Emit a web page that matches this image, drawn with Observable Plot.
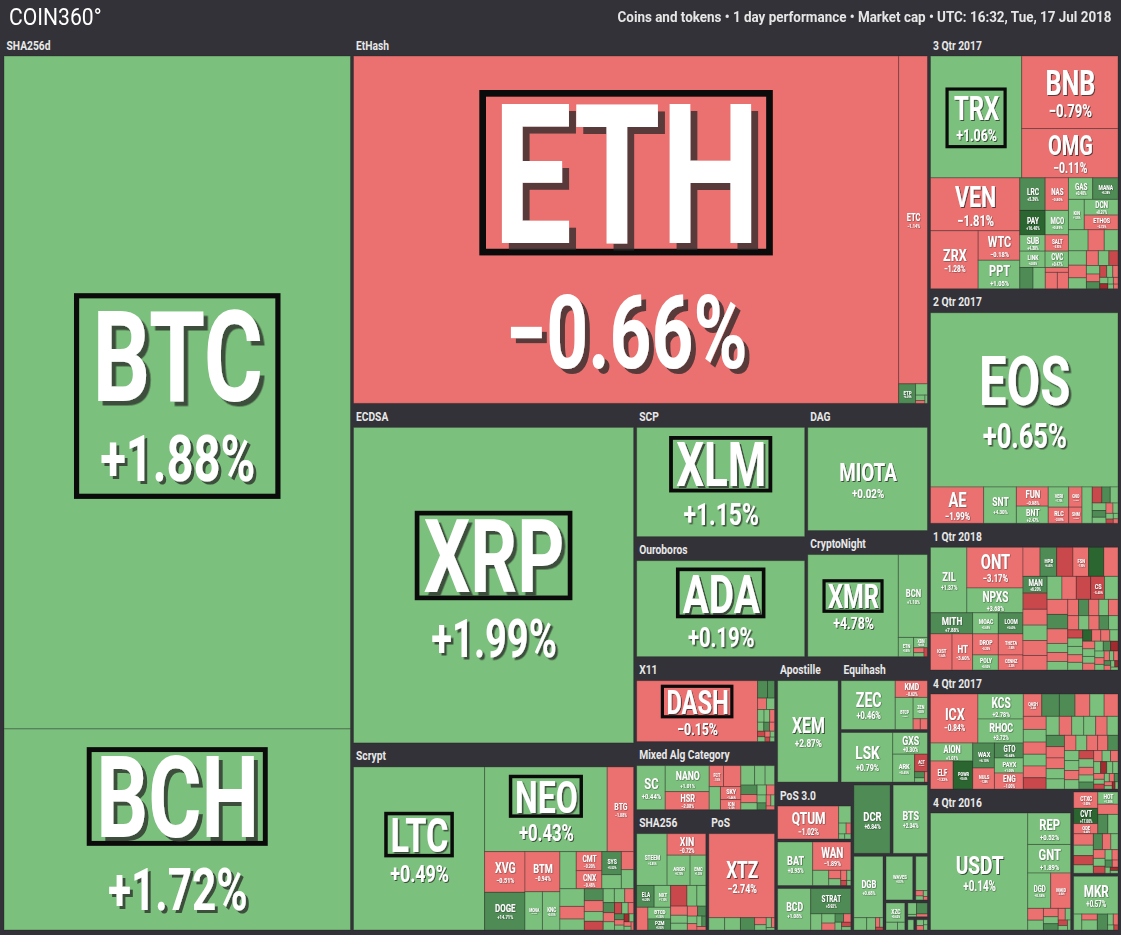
<!DOCTYPE html>
<html><head><meta charset="utf-8">
<script src="https://cdn.jsdelivr.net/npm/d3@7"></script>
<script src="https://cdn.jsdelivr.net/npm/@observablehq/plot@0.6"></script>
<style>
html,body{margin:0;padding:0;background:#333238;}
#hdr{position:relative;height:35px;width:1121px;font-family:Roboto,sans-serif;color:#fff;overflow:hidden}
#logo{position:absolute;left:9px;top:3px;font-size:24px;transform:scaleX(.88);transform-origin:left center;white-space:nowrap}
#info{position:absolute;right:9px;top:8px;font-size:15.5px;font-weight:bold;color:#e6e6e6;transform-origin:right center;white-space:nowrap}
</style></head><body>
<div id="hdr"><div id="logo">COIN360°</div><div id="info">Coins and tokens • 1 day performance • Market cap • UTC: 16:32, Tue, 17 Jul 2018</div></div>
<div id="chart"></div>
<script>
// ---------- tiny builders: H = side by side, V = stacked, S = squarified cluster, G = group ----------
const H = (...k) => ({d: "h", k}), V = (...k) => ({d: "v", k}), S = (...k) => ({d: "s", k});
const G = (g, c) => ({g, k: [c]});

// ---------- data: [ticker, tile weight, 1-day change %]  (unnamed = [weight, change]) ----------
const sha256dCoins = V(["BTC", 225900, 1.88], ["BCH", 67500, 1.72]);
const ethashCoins = H(["ETH", 183500, -0.66],
  V(["ETC", 9150, -1.14], H(["ETP", 320, 6.09], S([130, 1.2], [50, 0.8], [25, -3.5], [20, 0.5]))));
const ecdsaCoins = ["XRP", 86000, 1.99];
const scryptCoins = H(["LTC", 20800, 0.49],
  V(H(["NEO", 10100, 0.43], ["BTG", 2180, -1.08]),
    H(V(["XVG", 1600, -0.51], ["DOGE", 1480, 14.71]),
      V(["BTM", 1365, -0.94], H(["MONA", 650, 0.62], ["KNC", 650, 0.81])),
      V(H([590, 1.3], V(["CMT", 475, -0.20], ["CNX", 450, -0.48]), V(["SYS", 437, 5.52], [266, 0.9]), V([216, -1.6], [228, 2.1])),
        S([420, 1.2], [300, -1.1], [260, 0.7], [220, 9.5], [200, -2.4], [180, 1.8], [160, -6.2], [150, 0.4], [140, 3.1], [120, -0.9],
          [110, 12.0], [100, -1.5], [90, 0.8], [80, -8.3], [70, 2.2], [60, -0.5], [55, 6.7], [50, -3.2], [45, 1.1], [40, -12.5],
          [35, 0.3], [30, -1.9], [25, 4.4], [20, -0.7])))));
const scpCoins = ["XLM", 17870, 1.15];
const ouroborosCoins = ["ADA", 15700, 0.19];
const dagCoins = ["MIOTA", 12020, 0.02];
const cryptonightCoins = H(["XMR", 9000, 4.78],
  V(["BCN", 2350, 1.10], H(["ETN", 285, 0.85], V(["XDN", 140, 0.6], S([50, -3.8], [40, 1.0], [30, -6.0])))));
const x11Coins = H(["DASH", 7200, -0.15],
  S([170, 8.5], [120, 5.6], [100, -1.2], [90, 1.4], [80, 0.6], [70, 2.3], [60, -2.1], [55, 1.0], [50, 6.3], [45, -0.8],
    [40, -5.4], [35, 0.5], [30, -1.7], [25, 3.0], [22, -9.0], [20, 1.2]));
const mixedCoins = H(["SC", 1230, 0.44], V(["NANO", 1120, 1.01], ["HSR", 775, -2.08]),
  V(H(["FCT", 294, -1.55], [357, -0.92]), H([253, 1.1], V(["SKY", 260, -1.46], ["ICN", 200, -2.10]))),
  S([260, 0.9], [200, 1.6], [180, 0.4], [150, 6.5], [130, -1.3], [110, 2.0], [90, 0.7], [80, -3.3], [70, 1.2], [60, 9.0],
    [50, -0.6], [40, 2.4], [30, -1.0]));
const sha256Coins = V(H(["STEEM", 1540, 2.85], V(["XIN", 814, -0.72], H(["ARDR", 680, 0.70], ["EMC", 465, 1.20]))),
  H(V(H(["ELA", 374, 6.20], ["NXT", 352, 1.10]), H([250, -1.50], V(["BTCD", 260, 1.30], ["PZM", 245, 5.50]))),
    S([330, -6.5], [200, 1.0], [180, 0.6], [150, -1.4], [130, 2.2], [110, 0.9], [100, -0.8], [80, 5.4], [70, 1.5], [60, -2.6],
      [50, 0.4], [40, 7.0], [30, -1.0])));
const posCoins = V(["XTZ", 5400, -2.74],
  H([190, 1.50], ["PIVX", 190, 1.05], [170, 5.20], S([80, -2.1], [60, 1.1], [50, 0.5], [30, -3.4], [20, 2.0])));
const apostilleCoins = ["XEM", 6000, 2.87];
const equihashCoins = H(["ZEC", 2585, 0.46],
  V(["KMD", 528, -0.62], H(["BTCP", 560, 1.00], V(["ZEN", 300, 0.80], H([75, -1.80], [75, -0.90])))));
const dposCoins = H(["LSK", 2500, 0.79],
  V(["GXS", 735, 0.30], H(["ARK", 595, 0.45], V(["ACT", 221, -7.50], S([60, 5.5], [40, 1.0], [30, -2.0])))));
const pos30Coins = H(["QTUM", 1980, -1.02], V([204, 1.2], S([80, 0.6], [50, -1.0], [30, 2.0], [30, 0.4])));
const batCoins = H(["BAT", 1505, 0.95],
  V(["WAN", 1064, -1.89], H(["NEBL", 240, 0.90], S([100, -1.2], [80, 0.6], [60, -4.0], [40, 1.5], [30, -7.0], [20, 0.8]))));
const bcdCoins = H(["BCD", 1353, 1.08],
  V(["STRAT", 1000, 5.92], H([176, 1.2], S([120, 0.8], [90, -1.0], [70, 6.0], [60, -3.5], [50, 1.5], [40, -8.0], [30, 0.6]))));
const dcrCoins = ["DCR", 2440, 6.84];
const btsCoins = ["BTS", 2310, 2.34];
const dgbCoins = V(["DGB", 1764, 0.68], H([156, 1.2], [108, 0.6], S([40, -3.0], [30, 2.0], [20, -6.0])));
const wavesCoins = ["WAVES", 1150, 0.57];
const smallA = V([396, 1.4], S([40, -2.5], [30, 1.0], [24, 3.0], [14, -1.0]));
const xzcCoins = V(["XZC", 360, 0.62], H([88, 1.5], [56, 0.5]));
const smallB = H(V([100, 1.0], [20, 0.5]), V([120, 9.0], [30, -3.0]));
const smallC = [60, 1.3];
const smallD = S([40, 1.0], [30, -3.0], [20, 2.0], [20, 0.5]);

const q3_2017Coins = V(
  H(["TRX", 10770, 1.06], V(["BNB", 6770, -0.79], ["OMG", 4600, -0.11])),
  H(V(["VEN", 4580, -1.81], H(["ZRX", 2680, -1.28], V(["WTC", 1190, -0.18], ["PPT", 1150, 1.05]))),
    V(H(["LRC", 800, 5.39], ["NAS", 736, -0.80]), H(["PAY", 600, 16.4], ["MCO", 550, 0.89]),
      H(["SUB", 400, 4.38], ["SALT", 370, -0.93]), H(["LINK", 400, 4.85], ["CVC", 370, 0.47]),
      H([273, 7.5], [252, 1.10], V([110, -1.50], H([192, -1.00], [176, -1.20])))),
    V(H(["GAS", 506, 0.40], ["MANA", 528, 5.28]), H(["KIN", 465, 1.05], V(["DCN", 512, 0.27], ["ETHOS", 480, -2.72])),
      S([400, 0.9], [330, -1.1], [280, 1.6], [250, 4.2], [220, -0.6], [190, 0.3], [170, -2.2], [150, 1.2], [130, -6.5], [110, 0.8],
        [100, -1.4], [90, 5.8], [80, -9.5], [70, 0.5], [60, -1.0], [50, 2.6], [40, -12.0], [35, 0.7], [30, -3.0], [25, 1.4], [20, -0.4]))));
const q2_2017Coins = V(["EOS", 31660, 0.65],
  H(["AE", 1870, -1.99], ["SNT", 1150, 4.30], V(["FUN", 590, -0.98], ["BNT", 530, 2.47]), V(["VERI", 400, 1.70], ["RLC", 320, -2.09]),
    V(["GNO", 260, -1.20], ["SNM", 208, -1.50]), [360, 1.00],
    S([150, -7.0], [130, 5.5], [120, 1.0], [100, 0.6], [90, 6.2], [80, 1.3], [70, -1.2], [50, 0.4], [40, 2.0], [30, -6.0], [25, 1.0], [20, -3.0])));
const q1_2018Coins = H(
  V(H(["ZIL", 2310, 1.37], V(["ONT", 2214, -3.17], ["NPXS", 1350, 3.68])),
    H(V(["MITH", 860, 7.88], H(["IOST", 756, -1.64], ["HT", 720, -3.60])),
      V(["MOAC", 525, 3.69], ["DROP", 525, -0.20], ["POLY", 375, 0.50]),
      V(["LOOM", 504, 5.60], ["THETA", 504, -1.80], ["CENNZ", 360, -2.30]))),
  S(["TUSD", 480, -0.09], ["HPB", 470, 6.40], ["NOAH", 460, -6.50], ["FSN", 440, -1.90], [430, 18.0], [400, -1.20], ["MAN", 390, 6.20],
    [380, -9.00], [370, -2.00], [360, 1.50], [350, -1.10], [340, -0.80], [330, 2.10], [320, -1.60], [320, -7.50], ["CS", 310, -5.40],
    [300, 1.00], [300, -0.70], [290, 6.80], [290, -1.30], [180, 0.50], [180, -2.40], [170, 1.80], [170, -1.00], [160, 7.20],
    [160, -0.40], [150, 0.90], [150, -3.10], [150, -0.50], [140, 1.20], [140, -1.80], [130, 5.90], [130, 0.30], [120, -6.80],
    [120, 2.40], [120, 1.90], [110, -0.90], [110, 1.10], [100, 16.0], [100, -1.40], [100, -2.80], [90, 0.70], [90, -2.20], [90, 0.60],
    [80, 3.50], [80, -0.60], [80, 4.80], [70, 9.40], [70, -12.0], [60, 1.30], [60, -1.10], [50, 0.40], [50, -4.20], [40, 2.60],
    [40, -0.80], [30, 6.00], [30, -1.60], [25, 0.90], [20, -11.0], [20, 1.70]));
const q4_2017Coins = H(
  V(H(["ICX", 2254, -0.84], V(["KCS", 1100, 2.78], ["RHOC", 1056, 3.72])),
    H(V(["AION", 738, 1.01], H(["ELF", 616, -1.32], ["POWR", 532, 15.6])),
      V(["WAX", 525, 6.10], ["NULS", 441, -1.28]),
      V(["GTO", 420, 5.68], ["PAYX", 420, 1.05], ["ENG", 448, -1.00]))),
  S(["QASH", 400, -0.40], ["STORM", 380, 5.50], ["DRGN", 340, 5.10], [320, -1.00], [310, 1.20], [300, -0.70], [290, -1.50],
    [280, 0.90], [270, -2.00], [260, 1.60], [260, -0.30], [250, -7.20], [240, 0.50], [230, -1.20], [220, 2.30], [220, 1.30],
    [210, -0.60], [200, 1.00], [200, 5.80], [200, -1.40], [190, -1.90], [180, 0.70], [180, 0.20], [170, -3.40], [160, 1.40],
    [160, -0.80], [150, -0.90], [150, 6.30], [140, 0.40], [140, 2.70], [130, -1.10], [130, 2.00], [120, -6.00], [120, 0.80],
    [110, -1.70], [100, 1.10], [100, 9.00], [90, -0.50], [90, 0.60], [80, -2.60], [80, 1.90], [70, -10.5], [70, 0.30], [60, 4.20],
    [60, -1.30], [50, 0.90], [50, -5.50], [40, 1.50], [40, -0.70], [30, 7.50], [30, -2.10], [25, 0.60], [20, -13.0], [20, 1.20]));
const q4_2016Coins = H(["USDT", 11070, 0.14],
  V(["REP", 1310, 0.52], ["GNT", 1190, 1.89], H(["DGD", 790, 0.58], ["MAID", 684, -0.86]),
    S([180, -1.0], [150, 0.8], [120, -0.5], [100, 1.2], [90, 6.0], [80, -2.0], [60, 0.5], [50, -6.5], [40, 1.0], [30, 2.2])));
const newTokens = V(
  H(V(["CTXC", 384, -3.00], ["CVT", 360, 17.0], ["ODE", 240, -4.40]), V(["HOT", 240, 1.30], [200, -4.40], H([190, 5.50], [190, 1.00]))),
  S([220, -1.0], [200, 0.9], [180, -6.0], [160, 1.2], [140, 5.5], [130, -0.8], [110, 0.4], [100, -1.5], [90, 2.0], [80, -9.0],
    [70, 0.7], [60, -0.4], [50, 6.5], [40, -2.2], [30, 1.0], [25, -12.0], [20, 0.6]));
const mkrCoins = V(["MKR", 1634, 0.57], H([128, 1.2], V([90, -1.5], [150, 1.0]), [160, 6.5], S([60, 1.0], [50, -2.0], [30, 0.5], [20, -6.0])));

// highlighted tickers (black frame)
const boxedTicker = ["ETH", "XRP", "BCH", "XLM", "ADA", "XMR", "DASH", "NEO", "LTC"];
const boxedBoth = ["BTC", "TRX"];

// ---------- arrangement of groups ----------
const others = V(H(G(null, dcrCoins), G(null, btsCoins)),
  H(G(null, dgbCoins), V(H(G(null, wavesCoins), G(null, smallA)), H(G(null, xzcCoins), V(G(null, smallB), H(G(null, smallC), G(null, smallD)))))));
const middle = V(G("EtHash", ethashCoins),
  H(V(G("ECDSA", ecdsaCoins), G("Scrypt", scryptCoins)),
    V(H(V(G("SCP", scpCoins), G("Ouroboros", ouroborosCoins)), V(G("DAG", dagCoins), G("CryptoNight", cryptonightCoins))),
      H(V(G("X11", x11Coins), G("Mixed Alg Category", mixedCoins), H(G("SHA256", sha256Coins), G("PoS", posCoins))),
        V(H(G("Apostille", apostilleCoins), V(G("Equihash", equihashCoins), G(null, dposCoins))),
          H(V(G("PoS 3.0", pos30Coins), G(null, batCoins), G(null, bcdCoins)), others))))));
const right = V(G("3 Qtr 2017", q3_2017Coins), G("2 Qtr 2017", q2_2017Coins), G("1 Qtr 2018", q1_2018Coins),
  G("4 Qtr 2017", q4_2017Coins), H(G("4 Qtr 2016", q4_2016Coins), V(G(null, newTokens), G(null, mkrCoins))));
const root = H(G("SHA256d", sha256dCoins), middle, right);

// ---------- layout (tile sizes proportional to weights, header bands & gaps reserved) ----------
const W = 1121, HT = 900, GAP = 3, HDR = 21;
const isLeaf = n => Array.isArray(n);
function val(n) {
  if (isLeaf(n)) return typeof n[0] === "string" ? n[1] : n[0];
  if (n._v === undefined) n._v = d3.sum(n.k, val);
  return n._v;
}
function over(n, inG, axis) {
  if (isLeaf(n) || n.d === "s") return 0;
  if (n.g !== undefined) return (axis === "v" && n.g ? HDR : 0) + over(n.k[0], true, axis);
  const gap = inG ? 0 : GAP;
  const os = n.k.map(c => over(c, inG, axis));
  if (n.d === axis) return d3.sum(os) + gap * (n.k.length - 1);
  let s = 0; n.k.forEach((c, i) => s += val(c) * os[i]);
  return s / val(n);
}
const out = {tiles: [], heads: []};
function layout(n, x0, y0, x1, y1, inG) {
  if (isLeaf(n)) {
    const [name, w, c] = typeof n[0] === "string" ? n : ["", n[0], n[1]];
    out.tiles.push({x0, y0, x1, y1, name, c});
    return;
  }
  if (n.g !== undefined) {
    if (n.g) out.heads.push({x: x0, y: y0, label: n.g});
    layout(n.k[0], x0, y0 + (n.g ? HDR : 0), x1, y1, true);
    return;
  }
  if (n.d === "s") {
    const r = d3.hierarchy({children: n.k}).sum(d => (d.children ? 0 : val(d)));
    d3.treemap().tile(d3.treemapSquarify).size([x1 - x0, y1 - y0])(r);
    for (const l of r.leaves()) layout(l.data, x0 + l.x0, y0 + l.y0, x0 + l.x1, y0 + l.y1, true);
    return;
  }
  const gap = inG ? 0 : GAP, k = n.k, m = k.length;
  const ho = k.map(c => over(c, inG, "h")), vo = k.map(c => over(c, inG, "v"));
  if (n.d === "h") {
    const hh = y1 - y0;
    const q = k.map((c, i) => val(c) / Math.max(1, hh - vo[i])), Q = d3.sum(q);
    const free = (x1 - x0) - gap * (m - 1) - d3.sum(ho);
    let x = x0;
    k.forEach((c, i) => { const w = ho[i] + free * q[i] / Q; layout(c, x, y0, x + w, y1, inG); x += w + gap; });
  } else {
    const ww = x1 - x0;
    const q = k.map((c, i) => val(c) / Math.max(1, ww - ho[i])), Q = d3.sum(q);
    const free = (y1 - y0) - gap * (m - 1) - d3.sum(vo);
    let y = y0;
    k.forEach((c, i) => { const h = vo[i] + free * q[i] / Q; layout(c, x0, y, x1, y + h, inG); y += h + gap; });
  }
}
layout(root, 4, 0, 1118, 895, false);

// ---------- colours ----------
function color(c) {
  if (c >= 15) return "#2b6530";
  if (c >= 5) return "#4f8b55";
  if (c >= 0) return "#7bc07c";
  if (c > -5) return "#eb7171";
  if (c > -10) return "#c8484b";
  return "#a22b30";
}

// ---------- labels ----------
const ctx = document.createElement("canvas").getContext("2d");
const SQ = 0.72;
function measure(s, fs, weight = "bold") { ctx.font = `${weight} ${fs}px Roboto`; return ctx.measureText(s).width; }
const fmt = d3.format("+.2f");
const tick = [], pct = [], boxT = [], boxB = [];
for (const t of out.tiles) {
  if (!t.name) continue;
  const w = t.x1 - t.x0, h = t.y1 - t.y0, n = t.name.length;
  const cap = Math.min(0.48 * w / (0.62 * n), 0.40 * h);
  if (cap < 3.3) continue;
  const cx = (t.x0 + t.x1) / 2, cy = (t.y0 + t.y1) / 2;
  const pc = 0.52 * cap;
  const b1 = cy + 0.09 * cap, b2 = cy + 0.99 * cap;
  const fs1 = cap / 0.711, fs2 = pc / 0.711;
  const s1 = t.name, s2 = fmt(t.c) + "%";
  const l1 = measure(s1, fs1) * SQ, l2 = measure(s2, fs2) * SQ;
  const off = Math.max(0.5, 0.05 * cap);
  tick.push({x: cx, y: b1, s: s1, fs: fs1, tl: l1, off});
  pct.push({x: cx, y: b2, s: s2, fs: fs2, tl: l2, off: off * 0.7});
  const sw = 2.5 + 0.03 * cap;
  if (boxedTicker.includes(t.name)) {
    const p = 0.04 * cap + 1 + sw / 2;
    boxT.push({x1: cx - l1 / 2 - p, x2: cx + l1 / 2 + p, y1: b1 - cap - p, y2: b1 + p, sw, fill: color(t.c)});
  }
  if (boxedBoth.includes(t.name)) {
    const p = 0.12 * cap + 2 + sw / 2, hw = Math.max(l1, l2) / 2;
    boxB.push({x1: cx - hw - p, x2: cx + hw + p, y1: b1 - cap - p, y2: b2 + p, sw, fill: color(t.c)});
  }
}
const heads = out.heads.map(d => ({x: d.x + 2, y: d.y + 14, s: d.label, tl: measure(d.label, 12.5) * 0.82, off: 0}));

const txt = (data) => Plot.text(data, {
  x: "x", y: "y", text: "s", fontSize: d => d.fs, fill: "white", textAnchor: "middle",
  lineAnchor: "bottom", fontWeight: "bold"
});

const chart = Plot.plot({
  width: W, height: HT, margin: 0,
  x: {domain: [0, W], range: [0, W], axis: null},
  y: {domain: [0, HT], range: [0, HT], axis: null},
  style: {background: "#333238", fontFamily: "Roboto, sans-serif"},
  marks: [
    Plot.rect(out.tiles, {x1: "x0", x2: "x1", y1: "y0", y2: "y1", fill: d => color(d.c), stroke: "#1c1c1c", strokeOpacity: 0.3, strokeWidth: 1}),
    Plot.rect(boxB, {x1: "x1", x2: "x2", y1: "y1", y2: "y2", fill: d => d.fill, stroke: "#0b0b0b", strokeWidth: d => d.sw}),
    txt(pct),
    Plot.rect(boxT, {x1: "x1", x2: "x2", y1: "y1", y2: "y2", fill: d => d.fill, stroke: "#0b0b0b", strokeWidth: d => d.sw}),
    txt(tick),
    Plot.text(heads, {x: "x", y: "y", text: "s", fontSize: 12.5, fontWeight: "bold", fill: "#e8e8e8", textAnchor: "start", lineAnchor: "bottom"})
  ]
});

// condensed glyphs + drop shadow (texts appear in mark order: pct, tick, heads)
const NS = "http://www.w3.org/2000/svg";
const defs = document.createElementNS(NS, "defs");
chart.insertBefore(defs, chart.firstChild);
const fids = new Map();
function shadow(off) {
  const k = Math.max(0.5, Math.round(off * 2) / 2);
  if (!fids.has(k)) {
    const id = "shadow" + String(k).replace(".", "_");
    const f = document.createElementNS(NS, "filter");
    f.setAttribute("id", id); f.setAttribute("x", "-20%"); f.setAttribute("y", "-40%");
    f.setAttribute("width", "160%"); f.setAttribute("height", "200%");
    const ds = document.createElementNS(NS, "feDropShadow");
    ds.setAttribute("dx", k); ds.setAttribute("dy", k); ds.setAttribute("stdDeviation", 0);
    ds.setAttribute("flood-color", "#262626"); ds.setAttribute("flood-opacity", 0.75);
    f.appendChild(ds); defs.appendChild(f); fids.set(k, id);
  }
  return `url(#${fids.get(k)})`;
}
const allText = [...pct, ...tick, ...heads];
chart.querySelectorAll("text").forEach((el, i) => {
  const d = allText[i];
  if (!d) return;
  el.setAttribute("textLength", d.tl);
  el.setAttribute("lengthAdjust", "spacingAndGlyphs");
  if (d.off) el.setAttribute("filter", shadow(d.off));
});
document.getElementById("chart").appendChild(chart);

// header text width fit
const info = document.getElementById("info");
info.style.transform = `scaleX(${494 / info.getBoundingClientRect().width})`;
</script>
</body></html>
